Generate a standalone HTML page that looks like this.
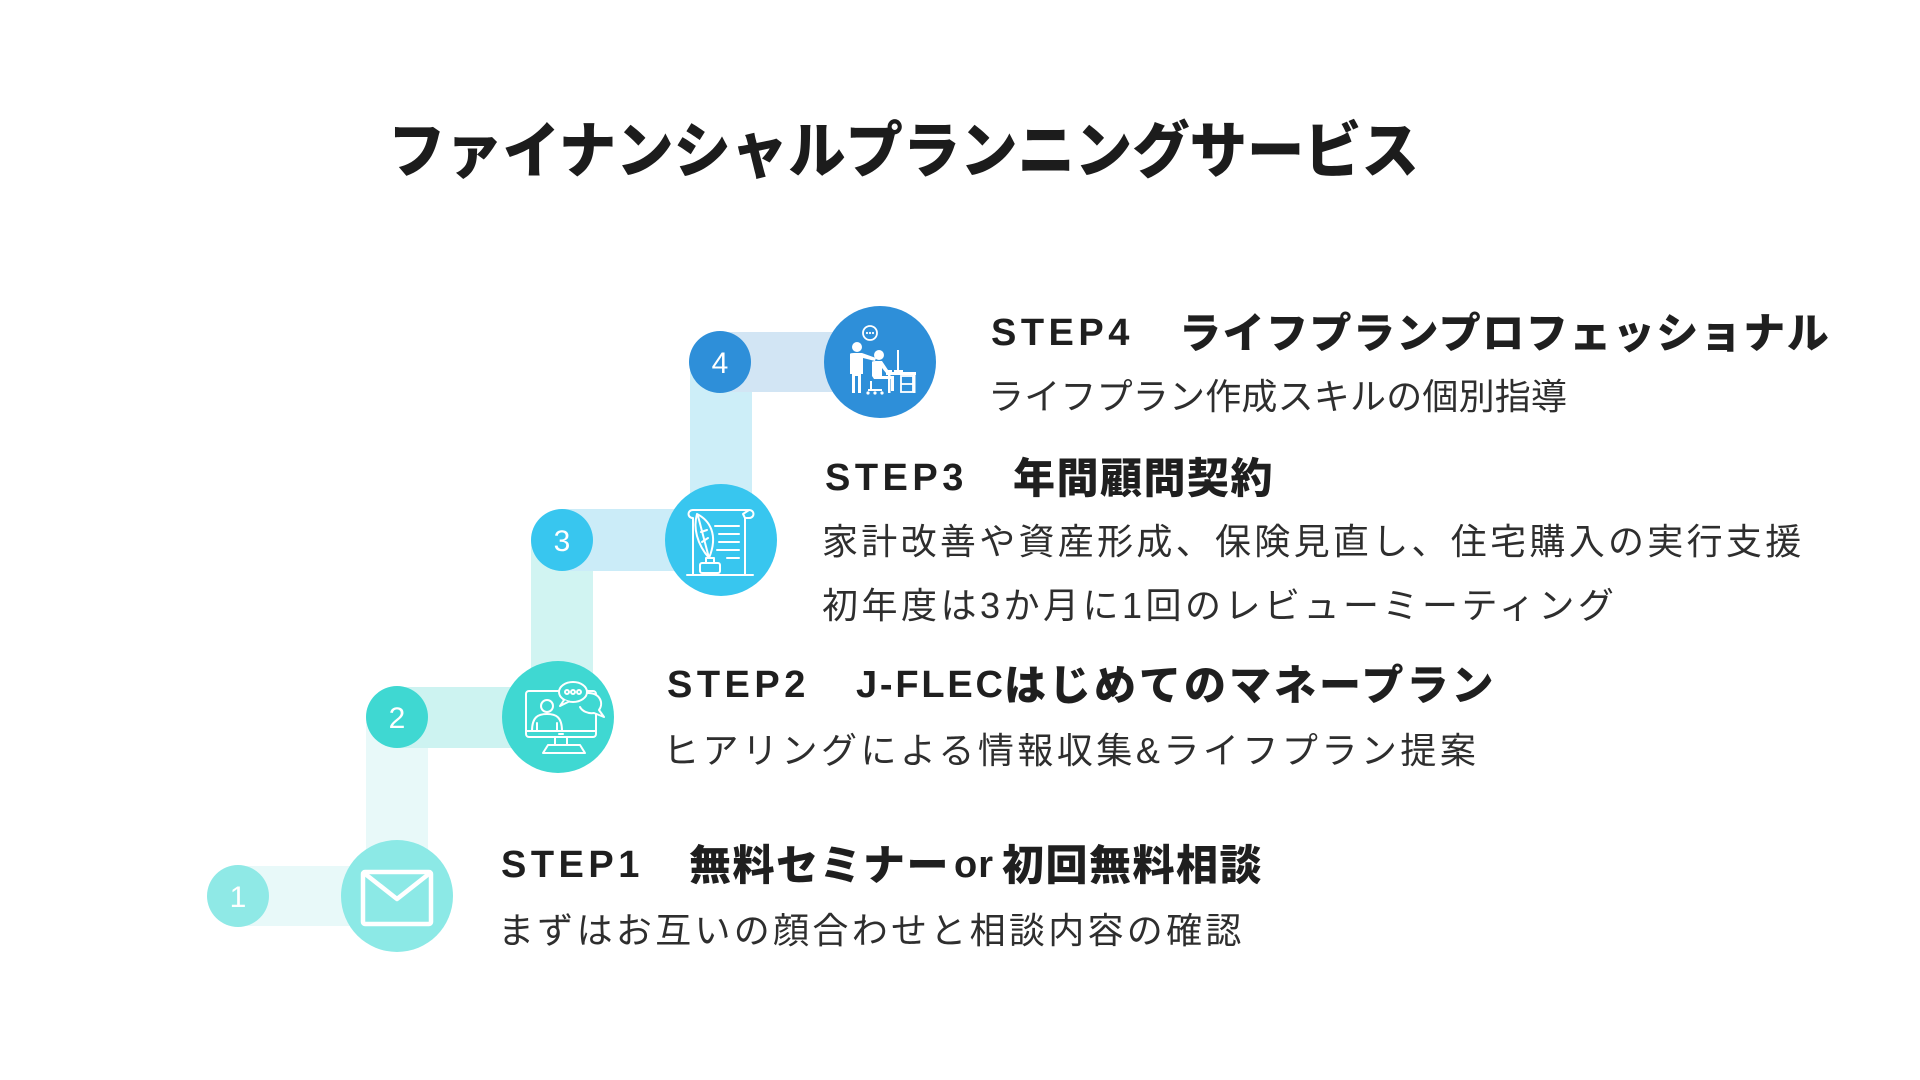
<!DOCTYPE html>
<html lang="ja">
<head>
<meta charset="utf-8">
<style>
  html,body{margin:0;padding:0;background:#ffffff;}
  body{width:1920px;height:1080px;position:relative;overflow:hidden;}
  .abs{position:absolute;white-space:nowrap;}
  .title{left:388px;top:106px;height:80px;line-height:80px;font-family:"Noto Sans CJK JP","Liberation Sans",sans-serif;font-weight:900;font-size:61px;color:#1c1c1c;transform:scaleX(0.94);transform-origin:0 50%;letter-spacing:0;}
  .lat{font-family:"Liberation Sans","Noto Sans CJK JP",sans-serif;font-weight:700;font-size:38px;color:#1f1f1f;height:50px;line-height:50px;letter-spacing:4.5px;}
  .jp{font-family:"Noto Sans CJK JP","Liberation Sans",sans-serif;font-weight:900;font-size:42px;color:#1f1f1f;height:50px;line-height:50px;letter-spacing:1.5px;}
  .sub{font-family:"Liberation Sans","Noto Sans CJK JP",sans-serif;font-weight:400;font-size:36px;color:#2e2e2e;height:50px;line-height:50px;}
</style>
</head>
<body>

<svg class="abs" style="left:0;top:0" width="1920" height="1080" viewBox="0 0 1920 1080">
  <!-- bands -->
  <rect x="238" y="866" width="159" height="60" fill="#e8f9f9"/>
  <rect x="366" y="717" width="62" height="179" fill="#e8f9f9"/>
  <rect x="397" y="687" width="161" height="61" fill="#cdf3f1"/>
  <rect x="531" y="540" width="62" height="177" fill="#d1f4f2"/>
  <rect x="562" y="509" width="159" height="62" fill="#cbecf8"/>
  <rect x="690" y="362" width="62" height="178" fill="#cdeef8"/>
  <rect x="720" y="332" width="160" height="60" fill="#d2e5f4"/>

  <!-- small circles -->
  <circle cx="238" cy="896" r="31" fill="#8fe9e6"/>
  <circle cx="397" cy="717" r="31" fill="#3fd8d2"/>
  <circle cx="562" cy="540" r="31" fill="#38c6ef"/>
  <circle cx="720" cy="362" r="31" fill="#2e8fd9"/>
  <g font-family="Liberation Sans, sans-serif" font-size="30" fill="#ffffff" text-anchor="middle">
    <text x="238" y="907">1</text>
    <text x="397" y="728">2</text>
    <text x="562" y="551">3</text>
    <text x="720" y="373">4</text>
  </g>

  <!-- big circles -->
  <circle cx="397" cy="896" r="56" fill="#8ce9e6"/>
  <circle cx="558" cy="717" r="56" fill="#3fd8d2"/>
  <circle cx="721" cy="540" r="56" fill="#38c6ef"/>
  <circle cx="880" cy="362" r="56" fill="#2e8fd9"/>

  <!-- icon 1: envelope -->
  <g transform="translate(397,896)" fill="none" stroke="#ffffff" stroke-width="4.5" stroke-linejoin="round">
    <rect x="-34" y="-24" width="68" height="52" rx="2"/>
    <path d="M-33 -23 L0 3 L33 -23"/>
  </g>

  <!-- icon 2: monitor + person + bubbles -->
  <g transform="translate(558,717)" fill="none" stroke="#ffffff" stroke-width="2" stroke-linejoin="round" stroke-linecap="round">
    <rect x="-32" y="-26" width="70" height="46" rx="3"/>
    <line x1="-32" y1="14" x2="38" y2="14"/>
    <line x1="1" y1="17" x2="5" y2="17"/>
    <path d="M-3 20 L-3 28 M9 20 L9 28"/>
    <path d="M-15 36 L-10 28 L22 28 L27 36 Z"/>
    <circle cx="-11" cy="-11" r="6"/>
    <path d="M-26 14 C-26 0 -20 -3 -11 -3 C-2 -3 4 0 4 14"/>
    <path d="M-21 14 L-21 6 M-1 14 L-1 6"/>
    <path d="M30 -24 C42 -24 46 -14 41 -7 L46 0 L36 -4 C30 -3 24 -6 22 -10" fill="#3fd8d2"/>
    <ellipse cx="15" cy="-25" rx="14" ry="10" fill="#3fd8d2"/>
    <path d="M6 -17 L2 -11 L11 -15.5" fill="#3fd8d2"/>
    <circle cx="9" cy="-25" r="2"/>
    <circle cx="15" cy="-25" r="2"/>
    <circle cx="21" cy="-25" r="2"/>
  </g>

  <!-- icon 3: scroll + quill + ink -->
  <g transform="translate(721,540)" fill="none" stroke="#ffffff" stroke-width="2" stroke-linejoin="round" stroke-linecap="round">
    <path d="M-28 -30 C-34 -30 -34 -22 -28 -22 L-28 34"/>
    <path d="M-28 -30 L28 -30 C34 -30 34 -22 28 -22 L24 -22 L24 34"/>
    <path d="M24 -22 L22 -26 L28 -30"/>
    <line x1="-6" y1="-14" x2="18" y2="-14"/>
    <line x1="-2" y1="-6" x2="18" y2="-6"/>
    <line x1="-2" y1="2" x2="18" y2="2"/>
    <line x1="-4" y1="10" x2="18" y2="10"/>
    <line x1="6" y1="18" x2="18" y2="18"/>
    <path d="M-12 18 C-24 4 -28 -12 -24 -26 C-12 -20 -2 -6 -12 18 Z"/>
    <path d="M-23 -24 L-12 18"/>
    <path d="M-20 -8 L-14 -10 M-19 2 L-13 -2"/>
    <rect x="-15" y="18" width="8" height="5"/>
    <rect x="-21" y="23" width="20" height="10" rx="2"/>
    <line x1="-34" y1="35" x2="32" y2="35"/>
  </g>

  <!-- icon 4: two people at desk -->
  <g transform="translate(880,362)">
    <g fill="#ffffff">
      <circle cx="-23" cy="-15" r="5"/>
      <path d="M-30 -8 Q-30 -9 -26 -9 L-18 -9 L-4 -4 L-5 -1 L-17 -4 L-17 12 L-19 12 L-19 31 L-22 31 L-22 14 L-25 14 L-25 31 L-28 31 L-28 12 L-30 12 Z"/>
      <circle cx="-1" cy="-7" r="5"/>
      <path d="M-8 0 Q-8 -1 -4 -1 L2 -1 L8 8 L12 8 L12 11 L6 11 L2 6 L2 14 L14 14 L14 29 L11 29 L11 17 L-6 17 L-8 14 Z"/>
      <rect x="-10" y="19" width="2" height="9"/>
      <rect x="-12" y="27" width="14" height="2"/>
      <circle cx="-12" cy="31" r="1.6"/>
      <circle cx="2" cy="31" r="1.6"/>
      <circle cx="-5" cy="31" r="1.6"/>
      <rect x="6" y="10" width="30" height="3"/>
      <rect x="8" y="13" width="2.5" height="18"/>
      <rect x="33" y="13" width="2.5" height="18"/>
      <rect x="17" y="-12" width="2" height="21"/>
      <rect x="14" y="8" width="9" height="2"/>
    </g>
    <g fill="none" stroke="#ffffff" stroke-width="1.8">
      <rect x="21" y="14" width="12" height="16"/>
      <line x1="21" y1="22" x2="33" y2="22"/>
      <circle cx="-10" cy="-29" r="7"/>
    </g>
    <g fill="#ffffff">
      <circle cx="-13" cy="-29" r="1.1"/>
      <circle cx="-10" cy="-29" r="1.1"/>
      <circle cx="-7" cy="-29" r="1.1"/>
    </g>
  </g>
</svg>

<!-- Title -->
<div class="abs title">ファイナンシャルプランニングサービス</div>

<!-- STEP4 -->
<div class="abs lat" style="left:991px;top:308px;">STEP4</div>
<div class="abs jp" style="left:1179px;top:306px;">ライフプランプロフェッショナル</div>
<div class="abs sub" style="left:988px;top:372px;letter-spacing:0.2px;">ライフプラン作成スキルの個別指導</div>

<!-- STEP3 -->
<div class="abs lat" style="left:825px;top:453px;">STEP3</div>
<div class="abs jp" style="left:1013px;top:451px;">年間顧問契約</div>
<div class="abs sub" style="left:822px;top:517px;letter-spacing:3.3px;">家計改善や資産形成、保険見直し、住宅購入の実行支援</div>
<div class="abs sub" style="left:822px;top:581px;letter-spacing:3.5px;">初年度は3か月に1回のレビューミーティング</div>

<!-- STEP2 -->
<div class="abs lat" style="left:667px;top:660px;">STEP2</div>
<div class="abs lat" style="left:856px;top:660px;letter-spacing:2.8px;">J-FLEC</div>
<div class="abs jp" style="left:1004px;top:658px;letter-spacing:3px;">はじめてのマネープラン</div>
<div class="abs sub" style="left:663px;top:726px;letter-spacing:3.5px;">ヒアリングによる情報収集&amp;ライフプラン提案</div>

<!-- STEP1 -->
<div class="abs lat" style="left:501px;top:840px;">STEP1</div>
<div class="abs jp" style="left:689px;top:838px;">無料セミナー</div>
<div class="abs lat" style="left:954px;top:840px;letter-spacing:1px;">or</div>
<div class="abs jp" style="left:1002px;top:838px;">初回無料相談</div>
<div class="abs sub" style="left:498px;top:906px;letter-spacing:3.3px;">まずはお互いの顔合わせと相談内容の確認</div>

</body>
</html>
